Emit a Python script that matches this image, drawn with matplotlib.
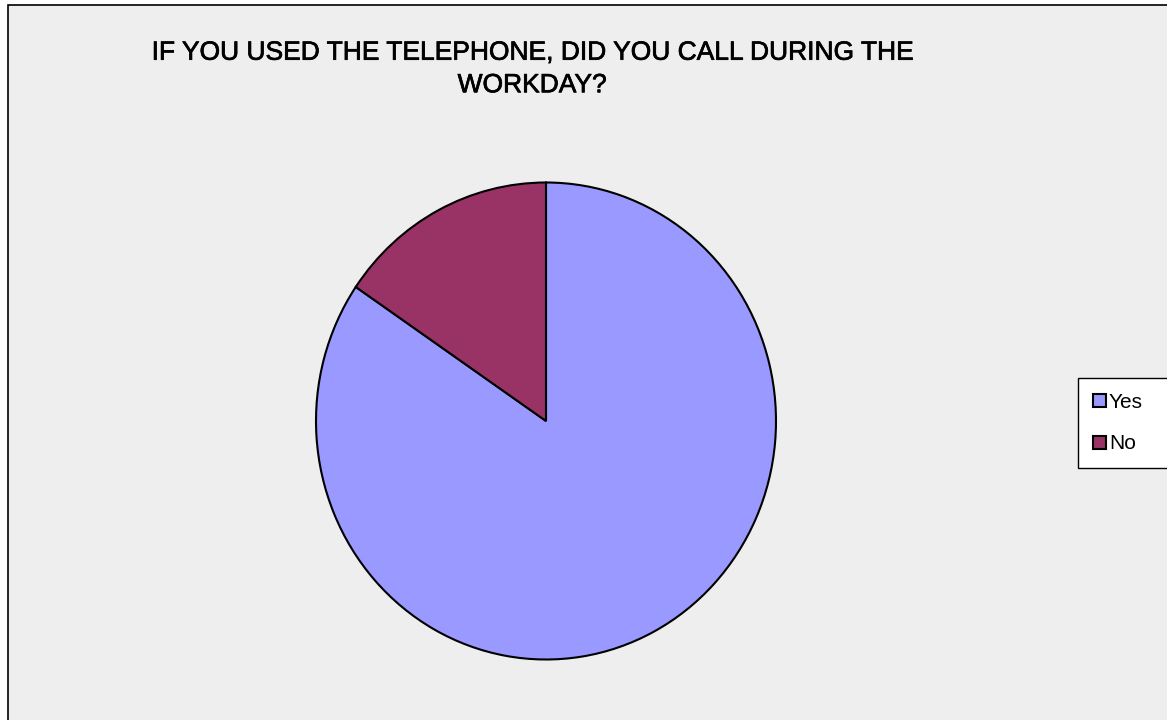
import matplotlib
matplotlib.use("Agg")
import matplotlib.pyplot as plt
import matplotlib.patheffects as pe
from matplotlib.patches import Rectangle

labels = ["Yes", "No"]
shares = [84.5, 15.5]
colors = ["#9999FF", "#993366"]
title = "IF YOU USED THE TELEPHONE, DID YOU CALL DURING THE\nWORKDAY?"

W, H = 1167, 720
fig = plt.figure(figsize=(W / 100, H / 100), dpi=100)
fig.patch.set_facecolor("white")

# chart area frame
fig.patches.append(Rectangle((8 / W, -0.01), 1.01 - 8 / W, 1 - 5 / H + 0.01,
                             transform=fig.transFigure, facecolor="#EEEEEE",
                             edgecolor="black", linewidth=1.2, zorder=-5))

# pie, slightly taller than wide
cx, cy, rx, ry = 546, 421, 230, 238.5
ax = fig.add_axes([(cx - rx) / W, 1 - (cy + ry) / H, 2 * rx / W, 2 * ry / H])
ax.set_facecolor("none")
ax.set_zorder(2)
wedges, _ = ax.pie(shares, colors=colors, startangle=90, counterclock=False,
                   wedgeprops=dict(edgecolor="black", linewidth=1.5))
ax.set_aspect("auto")
ax.set_xlim(-1, 1)
ax.set_ylim(-1, 1)
ax.axis("off")

fig.text(532 / W, 1 - 69 / H, title, ha="center", va="center",
         fontsize=19, family="Liberation Sans", linespacing=1.45,
         path_effects=[pe.withStroke(linewidth=0.5, foreground="black")])

# legend box runs off the right edge
fig.patches.append(Rectangle((1078 / W, 1 - 468 / H), 100 / W, 90 / H,
                             transform=fig.transFigure, facecolor="white",
                             edgecolor="black", linewidth=1.0, zorder=1))
leg = fig.legend(wedges, labels, loc="center left",
                 bbox_to_anchor=(1085 / W, 1 - 423 / H),
                 prop=dict(family="Liberation Sans", size=15),
                 frameon=False, handlelength=0.6, handleheight=0.6,
                 handletextpad=0.15, labelspacing=1.1, borderpad=0.4,
                 borderaxespad=0)
leg.set_zorder(3)

fig.savefig("out.png", dpi=100)
